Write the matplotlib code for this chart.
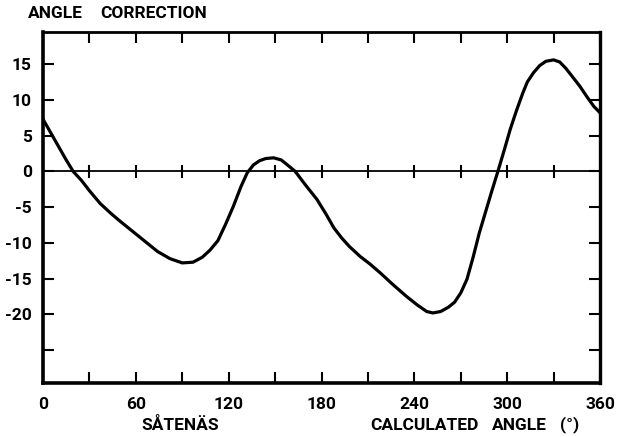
import matplotlib
matplotlib.use("Agg")
import matplotlib.pyplot as plt

# curve (degrees, angle correction)
angle = [0, 5, 10, 15, 19.5, 25, 30, 37, 44, 50, 58, 66, 74, 82, 90, 97,
         103, 108, 113, 118, 123, 128, 132, 136, 140, 144, 149, 154, 158,
         163, 170, 177, 183, 188, 193, 198, 205, 211, 218, 226, 235, 242,
         248, 252, 257, 262, 266, 270, 274, 278, 282, 286, 290, 294, 298,
         302, 306, 310, 313, 317, 321, 325, 330, 334, 338, 342, 347, 352,
         356, 360]
correction = [7.3, 5.4, 3.5, 1.6, 0, -1.3, -2.7, -4.5, -5.9, -7.0, -8.4,
              -9.8, -11.2, -12.2, -12.8, -12.7, -12.0, -11.0, -9.7, -7.4,
              -4.9, -2.1, -0.2, 0.9, 1.5, 1.8, 1.9, 1.6, 0.9, 0, -2.0,
              -3.9, -6.0, -7.9, -9.3, -10.5, -11.9, -12.9, -14.2, -15.8,
              -17.5, -18.7, -19.6, -19.8, -19.6, -19.0, -18.3, -17.0, -15.1,
              -12.0, -8.6, -5.7, -2.8, 0, 2.9, 5.9, 8.5, 10.9, 12.5, 13.8,
              14.8, 15.4, 15.6, 15.3, 14.4, 13.3, 11.9, 10.3, 9.1, 8.2]

xticks = [0, 60, 120, 180, 240, 300, 360]
xminor = [30, 90, 150, 210, 270, 330]
yticks = [15, 10, 5, 0, -5, -10, -15, -20]
yminor = [-25]

font = dict(family=["Roboto", "DejaVu Sans"], weight="bold")
fs = 12.5

fig = plt.figure(figsize=(6.2, 4.37), dpi=100)
ax = fig.add_axes([43 / 620, 54 / 437, 557 / 620, 351 / 437])

ax.plot(angle, correction, color="black", lw=2.3, solid_joinstyle="round",
        solid_capstyle="round")
ax.axhline(0, color="black", lw=1.3)
# small cross ticks on the zero line
for x in xminor + xticks[1:-1]:
    ax.plot([x, x], [-0.75, 0.75], color="black", lw=1.5)

ax.set_xlim(0, 360)
ax.set_ylim(-29.6, 19.5)
ax.set_xticks(xticks)
ax.set_xticks(xminor, minor=True)
ax.set_yticks(yticks)
ax.set_yticks(yminor, minor=True)
ax.set_xticklabels([str(v) for v in xticks], fontsize=fs, **font)
ax.set_yticklabels([str(v) for v in yticks], fontsize=fs, **font)
ax.tick_params(which="both", direction="in", length=8, width=1.5,
               top=True, right=True)
ax.tick_params(axis="x", pad=10)
ax.tick_params(axis="y", pad=8)

for side, w in [("left", 2.6), ("bottom", 2.6), ("right", 2.4), ("top", 2.0)]:
    ax.spines[side].set_linewidth(w)


def label(px, py, s, ha="left"):
    fig.text(px / 620, 1 - py / 437, s, fontsize=fs, ha=ha, va="center", **font)


label(28, 13, "ANGLE")
label(100, 13, "CORRECTION")
label(180, 425, "SÅTENÄS", ha="center")
label(370, 425, "CALCULATED")
label(492, 425, "ANGLE")
label(560, 425, "(°)")

fig.savefig("out.png", dpi=100)
